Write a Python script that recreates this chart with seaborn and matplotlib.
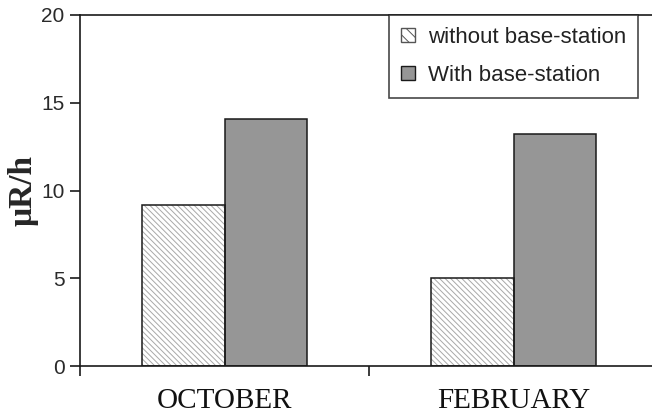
import matplotlib
matplotlib.use("Agg")
import matplotlib.pyplot as plt
from matplotlib.patches import Patch, Rectangle
import pandas as pd
import seaborn as sns

# data
months = ["OCTOBER", "FEBRUARY"]
series = ["without base-station", "With base-station"]
without_bs = [9.2, 5.0]
with_bs = [14.1, 13.2]

df = pd.DataFrame({
    "Month": months * 2,
    "Case": [series[0]] * 2 + [series[1]] * 2,
    "Value": without_bs + with_bs,
})

sns.set_style("white")
plt.rcParams["hatch.linewidth"] = 0.7

fig = plt.figure(figsize=(6.52, 4.16), dpi=100)
ax = fig.add_axes([80 / 652, 50 / 416, 578 / 652, 351 / 416])

sns.barplot(data=df, x="Month", y="Value", hue="Case", order=months,
            hue_order=series, palette=["white", "#969696"], width=0.57,
            gap=0, edgecolor="#1a1a1a", linewidth=1.1, legend=False,
            saturation=1, ax=ax)

# hatch the "without" bars in light grey, then redraw a dark outline on top
for bar in ax.containers[0]:
    bar.set_hatch("\\" * 6)
    bar.set_edgecolor("#a8a8a8")
    bar.set_linewidth(0)
    ax.add_patch(Rectangle(bar.get_xy(), bar.get_width(), bar.get_height(),
                           fill=False, edgecolor="#1a1a1a", linewidth=1.1, zorder=3))

ax.set_xlim(-0.5, 1.5)
ax.set_ylim(0, 20)
ax.set_yticks([0, 5, 10, 15, 20])
ax.set_xlabel("")
ax.set_ylabel("μR/h", fontfamily="Liberation Serif", fontweight="bold",
              fontsize=24, labelpad=2)

for s in ["left", "bottom", "top"]:
    ax.spines[s].set_visible(True)
    ax.spines[s].set_color("#1a1a1a")
    ax.spines[s].set_linewidth(1.2)
ax.spines["right"].set_visible(False)

ax.tick_params(axis="y", which="major", direction="out", length=7, width=1.2,
               color="#1a1a1a", left=True, labelsize=15, labelcolor="#2a2a2a", pad=4)
for lab in ax.get_yticklabels():
    lab.set_fontfamily("Liberation Sans")
ax.tick_params(axis="x", which="major", length=0, pad=16)
ax.set_xticks([-0.5, 0.5, 1.5], minor=True)
ax.tick_params(axis="x", which="minor", direction="out", length=7, width=1.2,
               color="#1a1a1a", bottom=True)
for lab in ax.get_xticklabels():
    lab.set_fontfamily("Liberation Serif")
    lab.set_fontsize(21)
    lab.set_color("#111111")

handles = [Patch(facecolor="white", edgecolor="#555555", hatch="\\\\\\", label=series[0]),
           Patch(facecolor="#969696", edgecolor="#1a1a1a", label=series[1])]
leg = ax.legend(handles=handles, loc="upper left", bbox_to_anchor=((389 - 80) / 578, 1.0),
                frameon=True, fancybox=False, edgecolor="#1a1a1a",
                prop={"family": "Liberation Sans", "size": 16},
                handlelength=0.6, handleheight=0.6, handletextpad=0.6,
                borderaxespad=0, borderpad=0.55, labelspacing=0.75)
leg.get_frame().set_linewidth(1.2)
for t in leg.get_texts():
    t.set_color("#222222")

fig.savefig("out.png", dpi=100)
